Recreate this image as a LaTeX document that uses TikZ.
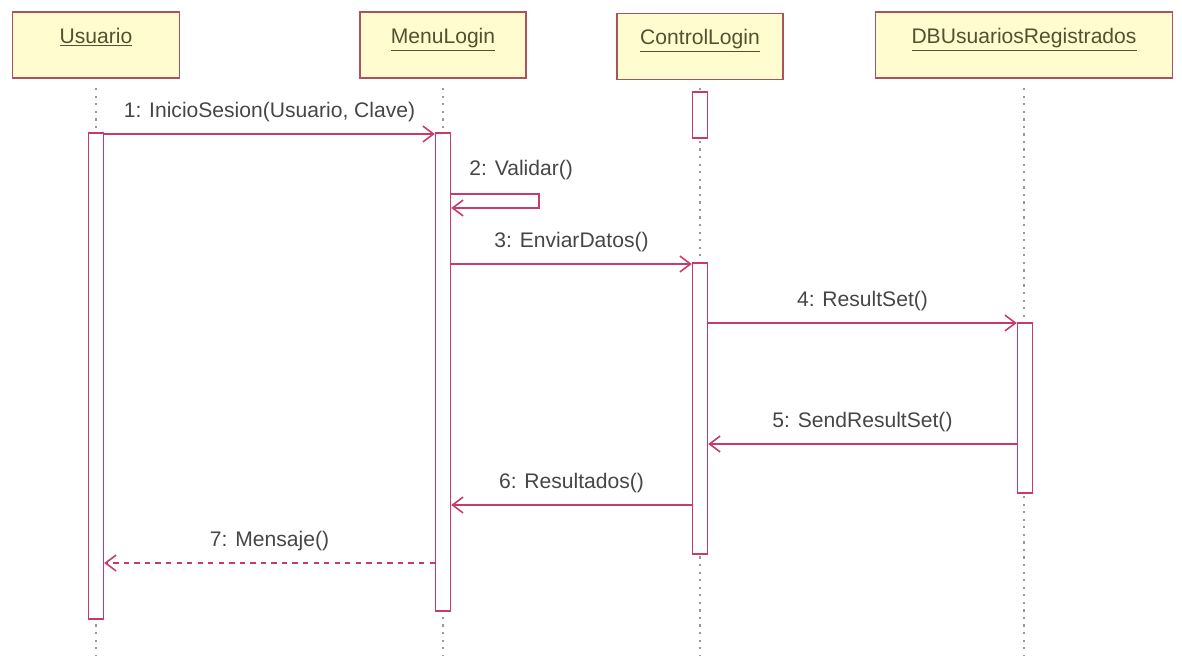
\documentclass[tikz,border=0pt]{standalone}
\usepackage{fontspec}
\setmainfont{Liberation Sans}
\usepackage{xcolor}
\usetikzlibrary{positioning,calc,arrows.meta}

\definecolor{objfill}{RGB}{255,253,208}
\definecolor{objline}{RGB}{172,82,92}
\definecolor{msgcol}{RGB}{200,58,108}
\definecolor{txtcol}{RGB}{70,70,70}
\definecolor{titlecol}{RGB}{82,82,48}

\begin{document}
\begin{tikzpicture}[
						x=0.02cm, y=-0.02cm, % 1 unit = 1 pixel of the original
						obj/.style={
							draw=objline, fill=objfill, line width=1pt,
							minimum height=1.32cm,
							anchor=center
						},
						objname/.style={
							anchor=north, yshift=-6pt,
							font=\fontsize{12}{14}\selectfont\color{titlecol}
						},
						bar/.style={
							draw=msgcol, fill=white, line width=0.8pt,
							minimum width=0.3cm, inner sep=0pt,
							anchor=center
						},
						life/.style={
							draw=gray!80, line width=1.3pt, dash pattern=on 1.3pt off 3pt
						},
						msg/.style={
							-{Straight Barb[length=6pt,width=9pt]}, draw=msgcol, line width=0.9pt
						},
						lbl/.style={
							font=\fontsize{12}{14}\selectfont\color{txtcol},
							above=3pt
						}
						]
						\useasboundingbox (0,0) rectangle (1182,656);
						
						% Objetos
						\node[obj, minimum width=3.34cm] (usuario) at (96,45) {};
						\node[obj, minimum width=3.32cm] (menu) at (443,45) {};
						\node[obj, minimum width=3.32cm] (control) at (700,46.5) {};
						\node[obj, minimum width=5.94cm] (db) at (1024,45) {};
						
						\node[objname] at (usuario.north) {\underline{Usuario}};
						\node[objname] at (menu.north) {\underline{MenuLogin}};
						\node[objname] at (control.north) {\underline{ControlLogin}};
						\node[objname] at (db.north) {\underline{DBUsuariosRegistrados}};
						
						% Lineas de vida
						\foreach \o in {usuario, menu, control, db} {
							\draw[life] (\o.south |- 0,88) -- (\o.south |- 0,656);
						}
						
						% Barras de activacion
						\node[bar, minimum height=9.72cm] (barU) at (96,376) {};
						\node[bar, minimum height=9.56cm] (barM) at (443,372) {};
						\node[bar, minimum height=0.92cm] (barC0) at (700,115) {};
						\node[bar, minimum height=5.82cm] (barC) at (700,408.5) {};
						\node[bar, minimum height=3.4cm] (barD) at (1025,408) {};
						
						% Mensajes
						\draw[msg] (barU.east |- 0,134) -- (barM.west |- 0,134)
							node[lbl, midway] {1: InicioSesion(Usuario, Clave)};
						
						\draw[msg] (barM.east |- 0,194) -- ++(88,0) -- ++(0,14) -- (barM.east |- 0,208);
						\node[lbl, anchor=west] at ($(barM.east |- 0,175)+(12,0)$) {2: Validar()};
						
						\draw[msg] (barM.east |- 0,264) -- (barC.west |- 0,264)
							node[lbl, midway] {3: EnviarDatos()};
						
						\draw[msg] (barC.east |- 0,323) -- (barD.west |- 0,323)
							node[lbl, midway] {4: ResultSet()};
						
						\draw[msg] (barD.west |- 0,444) -- (barC.east |- 0,444)
							node[lbl, midway] {5: SendResultSet()};
						
						\draw[msg] (barC.west |- 0,505) -- (barM.east |- 0,505)
							node[lbl, midway] {6: Resultados()};
						
						\draw[msg, dashed] (barM.west |- 0,563) -- (barU.east |- 0,563)
							node[lbl, midway] {7: Mensaje()};
						
					\end{tikzpicture}
\end{document}
